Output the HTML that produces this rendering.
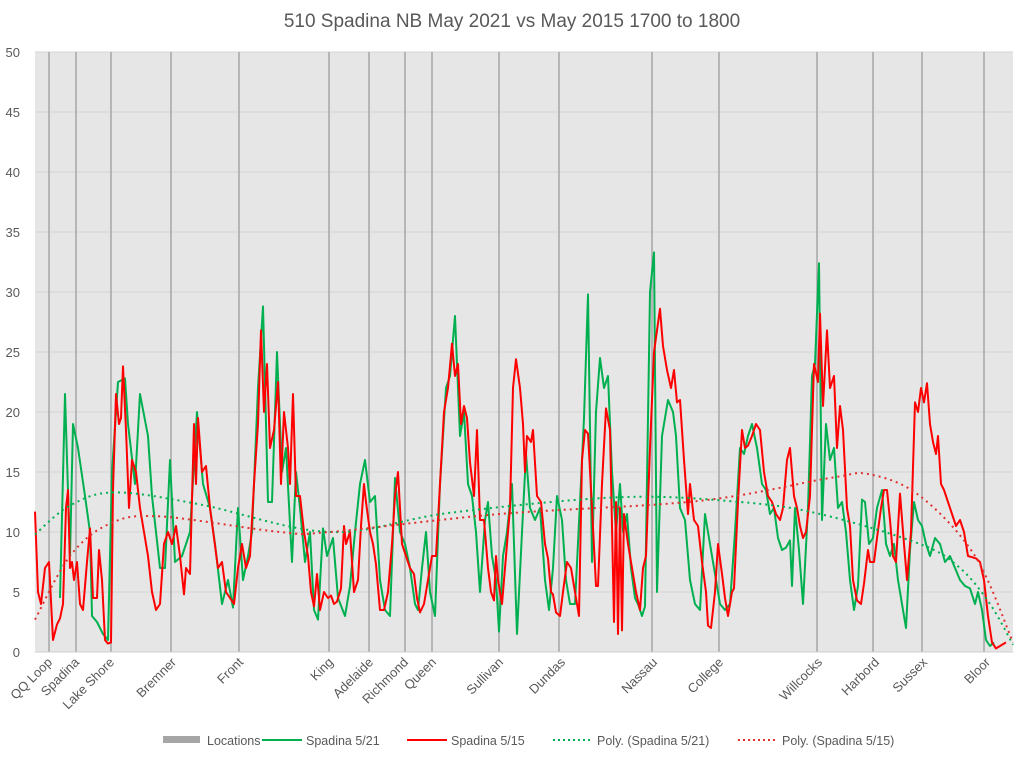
<!DOCTYPE html>
<html><head><meta charset="utf-8"><style>
body{margin:0;background:#fff;font-family:"Liberation Sans",sans-serif}
svg text{font-family:"Liberation Sans",sans-serif;fill:#595959}
</style></head><body>
<svg id="c" width="1024" height="755"></svg>
<script>
const locNames=["QQ Loop","Spadina","Lake Shore","Bremner","Front","King","Adelaide","Richmond","Queen","Sullivan","Dundas","Nassau","College","Willcocks","Harbord","Sussex","Bloor"];
const locPos=[49,76,111,171,239,329,369,405,432,499,559,652,719,817,873,922,984];
const labPos=[49,76,111,173,240,330,370,405,433,500,562,654,720,819,876,924,987];
const gPos=[60,65,70,73,78,85,90,92,97,103,108,112,118,125,128,135,140,148,152,160,165,170,175,182,190,197,203,210,215,222,228,233,238,243,248,252,258,263,268,272,277,282,286,292,296,300,305,310,314,318,323,327,333,338,345,350,355,360,365,370,375,380,385,390,395,400,405,410,415,418,422,426,430,435,440,446,450,455,460,464,468,472,476,480,485,488,492,496,499,503,507,512,517,522,526,530,535,540,545,549,553,557,562,566,570,575,580,584,588,592,596,600,604,608,612,616,620,623,627,631,635,638,642,645,650,654,657,662,668,673,676,680,685,690,695,700,705,708,712,716,720,725,730,735,740,744,748,752,757,762,766,770,774,778,782,786,790,792,795,799,803,808,812,815,819,822,826,830,834,838,842,846,850,854,858,862,865,869,873,877,882,886,890,894,898,902,906,910,914,918,922,926,930,935,940,945,950,955,960,965,970,975,978,982,986,990,994];
const gVal=[4.5,21.5,8,19,17,13,10,3,2.5,1.5,1,15,22.5,22.8,19,14,21.5,18,13,7,7,16,7.5,8,10,20,14,12,9,4,6,3.7,12,6,8,10,22,28.8,12.5,12.5,25,15,17,7.5,15,12,7.5,10,3.5,2.7,10.3,8,9.5,4.5,3,5.5,10,14,16,12.5,13,6,3.5,3,14.5,10,9,7,4,3.5,7,10,5,3,14,22,23,28,18,20,14,13,10,5,11,12.5,8,6,1.7,8,10,14,1.5,10,16.5,12,11,12,6,3.5,7,13,11,6,4,4,12.5,19.5,29.8,7.5,20,24.5,22,23,15,10,14,10,11.5,7,4.5,4,3,3.8,30,33.3,5,18,21,20,18,12,11,6,4,3.5,11.5,10,8,6,4,3.5,4,10,17,16.5,18,19,17,14,13.5,11.5,12,9.5,8.5,8.7,9.3,5.5,12,8.5,4,12,23,24,32.4,11,19,16,17,12,12.5,10,6,3.5,5.5,12.7,12.5,9,9.5,12,13.5,9,8,9,6,4,2,8.5,12.5,11,10.5,9,8,9.5,9,7.5,8,7,6,5.5,5.3,4,5,3.5,1,0.5,0.8];
const rPos=[35,38,41,45,49,53,57,60,63,66,68,70,72,74,77,80,83,87,90,93,97,99,102,105,108,111,113,116,119,121,123,126,129,132,136,140,144,148,152,156,160,164,168,172,176,180,184,186,190,194,196,198,202,206,210,214,218,222,226,230,234,238,242,246,250,254,258,261,264,267,270,274,278,281,284,288,290,293,296,300,304,308,311,314,317,320,324,328,331,334,337,341,344,346,350,354,358,361,364,366,370,373,376,380,384,388,392,395,398,402,406,410,414,417,420,424,428,432,436,440,444,448,452,455,458,461,464,467,470,474,477,480,484,488,491,494,496,498,502,506,510,513,516,520,523,525,527,531,533,537,541,545,548,551,553,556,560,563,567,571,575,579,582,585,588,592,596,598,602,606,610,614,616,618,620,622,624,628,632,636,640,643,646,650,654,660,663,667,671,674,677,680,684,688,690,694,698,702,706,708,711,715,718,722,725,728,732,734,738,742,745,748,752,756,760,764,768,772,776,780,783,787,790,794,797,800,803,806,810,814,818,820,823,827,830,834,837,840,843,847,850,853,857,861,864,868,870,874,877,881,884,887,890,893,896,900,904,907,911,915,918,921,924,927,930,933,936,938,941,944,948,952,956,960,964,968,972,976,980,984,988,992,996,1000,1006];
const rVal=[11.7,5,4,7,7.5,1,2.3,2.8,4,12,13.5,7,7.5,6,7.5,4,3.5,7.5,10.3,4.5,4.5,8.5,6,1,0.7,0.8,13.5,21.5,19,19.5,23.8,18.5,12,16,15,12,10,8,5,3.5,4,9,10,9,10.5,8,4.8,7,6.5,19,14,19.5,15,15.5,12,9.5,7,7.5,5,4.5,4,7,9,7,8,14,19,26.8,20,24,17,18.5,22.5,14,20,17,14,21.5,13,13,10,8,5,3.8,6.5,3.5,5,4.5,4.7,4,4.2,5.3,10.5,9,10,5,6,10.5,14,12.5,10,9,7.3,3.5,3.5,5,9,13,15,9,8,7,6.5,4.5,3.3,4,6,8,8,14,20,22,25.7,23,24,19,20.5,19.5,15.8,13,18.5,11,11,7,5,4.3,8,6,4,8,12,22,24.4,22,19,15,18,17.5,18.5,13,12.5,9,7.8,5,4.8,3.3,3,5,7.5,7,5,3,16,18.5,18.2,12,5.5,5.5,14,20.3,18.5,2.5,12.5,1.5,12,1.8,11.5,9,7,5,3.5,7,8,17,25,28.6,25.5,23.5,22,23.5,20.8,21,16,11.5,14,11,10.5,7.5,5,2.2,2,5,9,6.5,4.5,3,5,5.3,12.5,18.5,17,17.2,18,19,18.5,15,13,12.5,11.5,11,12,16,17,13,12,10.5,9.5,10,13,24,22.5,28.2,20.5,26.8,22,23,17,20.5,18.5,12,10.5,6,4.3,4,5.7,8.5,7.5,7.5,9.5,12,13.5,13.5,11,8,7.5,13.2,9,6,10,20.8,20,22,20.8,22.4,19,17.5,16.5,18,14,13.5,12.5,11.5,10.5,11,10,8,7.9,7.8,7.5,6,3,0.8,0.3,0.5,0.8];
const gTrendPos=[35,70,115,200,330,450,620,740,820,920,960,990,1013];
const gTrendVal=[9.8,12.2,13.3,12.3,10,11.6,12.9,12.5,11.5,9,7,4,0.6];
const rTrendPos=[35,70,110,160,280,330,500,700,830,870,920,975,1013];
const rTrendVal=[2.7,8,10.7,11.3,10,10,11.5,12.6,14.5,14.8,13,8,0.8];
const yTicks=[0,5,10,15,20,25,30,35,40,45,50];

const X0=35,X1=1013,Y0=652,Y1=52;
const xs=v=>X0+(v-35)/(1013-35)*(X1-X0);
const ys=v=>Y0-(v/50)*(Y0-Y1);
const NS="http://www.w3.org/2000/svg";
const svg=document.getElementById('c');
function mk(t,a,p){const e=document.createElementNS(NS,t);for(const k in a)e.setAttribute(k,a[k]);(p||svg).appendChild(e);return e;}

const title=mk('text',{x:512,y:27,'text-anchor':'middle','font-size':19});
title.textContent="510 Spadina NB May 2021 vs May 2015 1700 to 1800";



const bg=mk('rect',{x:X0,y:Y1,width:X1-X0,height:Y0-Y1,fill:'#e7e6e6'});



yTicks.forEach(t=>{
  const l=mk('line',{x1:X0,x2:X1,y1:ys(t),y2:ys(t),stroke:'#d4d4d4','stroke-width':1});
  
  
  const tx=mk('text',{x:20,y:ys(t)+5,'text-anchor':'end','font-size':13});
  tx.textContent=t;
  
  
});

locPos.forEach((p,i)=>{
  const l=mk('line',{x1:xs(p),x2:xs(p),y1:Y1,y2:Y0,stroke:'#a6a6a6','stroke-width':1.5});
  
  
});
const ax=mk('line',{x1:X0,x2:X1,y1:Y0,y2:Y0,stroke:'#cfcfcf','stroke-width':1});



function path(P,V){return P.map((p,i)=>(i?'L':'M')+xs(p).toFixed(1)+','+ys(V[i]).toFixed(1)).join('');}
function smooth(P,V){
  const pts=P.map((p,i)=>[xs(p),ys(V[i])]);let d='M'+pts[0];
  for(let i=0;i<pts.length-1;i++){const p0=pts[i-1]||pts[i],p1=pts[i],p2=pts[i+1],p3=pts[i+2]||p2;
    d+='C'+(p1[0]+(p2[0]-p0[0])/6)+','+(p1[1]+(p2[1]-p0[1])/6)+' '+(p2[0]-(p3[0]-p1[0])/6)+','+(p2[1]-(p3[1]-p1[1])/6)+' '+p2;}
  return d;}

const gl=mk('path',{d:path(gPos,gVal),fill:'none',stroke:'#00b050','stroke-width':2,'stroke-linejoin':'round'});


const rl=mk('path',{d:path(rPos,rVal),fill:'none',stroke:'#ff0000','stroke-width':2,'stroke-linejoin':'round'});


const gt=mk('path',{d:smooth(gTrendPos,gTrendVal),fill:'none',stroke:'#00b050','stroke-width':2,'stroke-dasharray':'2 4'});


const rt=mk('path',{d:smooth(rTrendPos,rTrendVal),fill:'none',stroke:'#e03030','stroke-width':2,'stroke-dasharray':'2 4'});



labPos.forEach((p,i)=>{
  const x=xs(p)+4,y=663;
  const t=mk('text',{x:x,y:y,'text-anchor':'end','font-size':13,transform:`rotate(-45 ${x} ${y})`});
  t.textContent=locNames[i];
  
  
});

const leg=[[163,'bar','#a6a6a6','Locations'],[262,'line','#00b050','Spadina 5/21'],[407,'line','#ff0000','Spadina 5/15'],[553,'dot','#00b050','Poly. (Spadina 5/21)'],[738,'dot','#e03030','Poly. (Spadina 5/15)']];
leg.forEach(([x,k,c,name])=>{
  const g=mk('g',{});
  
  
  if(k==='bar')mk('rect',{x:x,y:736,width:37,height:7,fill:c},g);
  else mk('line',{x1:x,x2:x+40,y1:740,y2:740,stroke:c,'stroke-width':2,'stroke-dasharray':k==='dot'?'2 3':'none'},g);
  const t=mk('text',{x:x+44,y:745,'font-size':12.5},g);t.textContent=name;
});
</script>
</body></html>
